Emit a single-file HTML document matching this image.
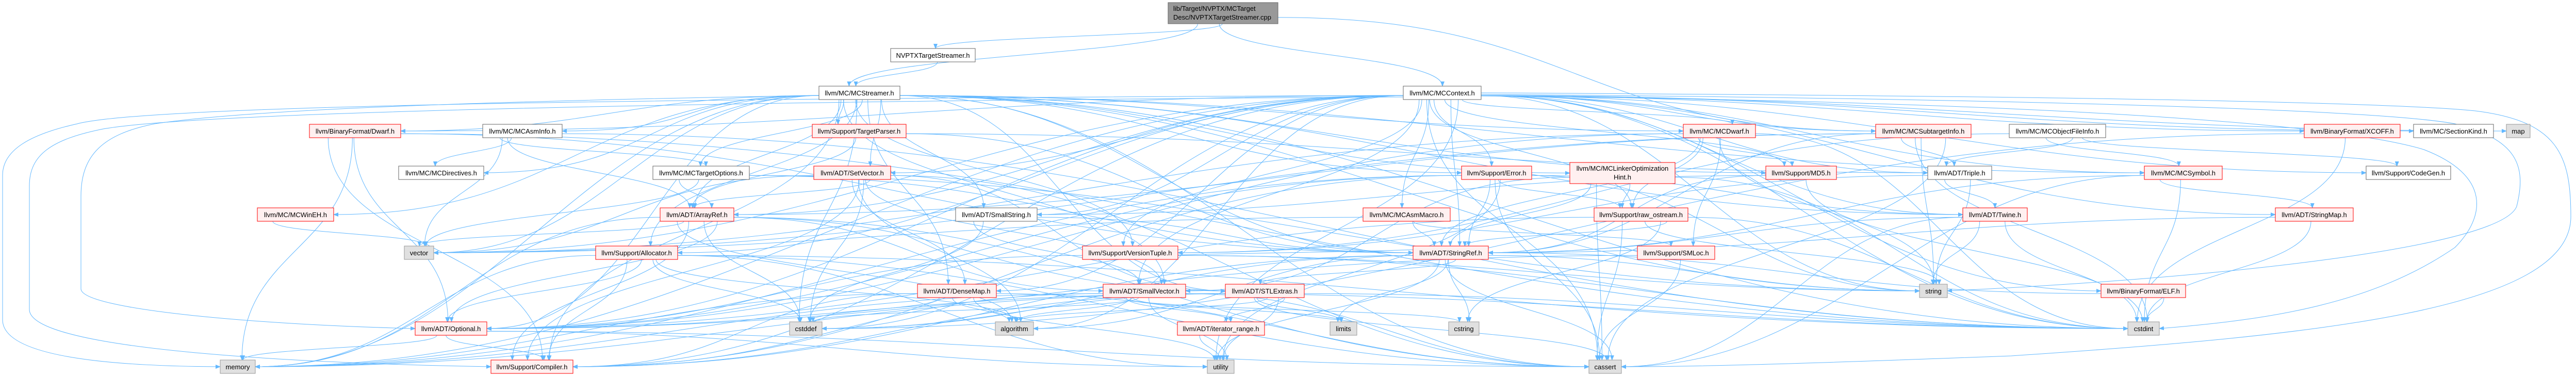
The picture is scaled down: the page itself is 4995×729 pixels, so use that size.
<!DOCTYPE html>
<html><head><meta charset="utf-8">
<style>
html,body{margin:0;padding:0;background:#fff;width:4995px;height:729px;overflow:hidden}
svg text{font-family:"Liberation Sans",Helvetica,sans-serif;font-size:13px;fill:#000}
</style></head>
<body>
<svg id="g" xmlns="http://www.w3.org/2000/svg" width="4995" height="729" viewBox="0 0 4995 729">
<defs>
<marker id="ah" markerWidth="10" markerHeight="8" refX="9" refY="4" orient="auto" markerUnits="userSpaceOnUse">
<path d="M0,0 L10,4 L0,8 z" fill="#63b8ff"/>
</marker>
</defs>
<g id="edges" fill="none" stroke="#63b8ff" stroke-width="1">
<path marker-end="url(#ah)" d="M2721,185 C1500,190 300,200 150,240 C60,260 5,290 5,340 L5,620 C5,690 200,710 427,711"/>
<path marker-end="url(#ah)" d="M2721,188 C1500,195 400,215 200,250 C100,270 57,300 57,360 L57,600 C57,680 600,705 952,711"/>
<path marker-end="url(#ah)" d="M1588,185 C1000,195 500,210 300,240 C200,260 157,300 157,380 L157,560 C157,600 500,630 805,637"/>
<path marker-end="url(#ah)" d="M2872,180 C3800,185 4600,195 4800,215 C4960,235 4985,300 4985,420 C4985,600 4500,650 3900,690 C3500,705 3300,711 3144,711"/>
<path marker-end="url(#ah)" d="M2872,183 C3800,190 4600,210 4760,240 C4880,270 4900,320 4880,400 C4850,480 4300,540 3776,564"/>
<path marker-end="url(#ah)" d="M2872,186 C3800,195 4500,230 4700,290 C4830,340 4820,420 4760,480 C4600,590 4400,620 4187,637"/>
</g>
<g id="nodes">
<rect x="2265" y="5" width="213" height="41" fill="#999" stroke="#666"/>
<text x="2275" y="21">lib/Target/NVPTX/MCTarget</text>
<text x="2275" y="38">Desc/NVPTXTargetStreamer.cpp</text>
<rect x="3044" y="315" width="204" height="41" fill="#fff0f0" stroke="#f00"/>
<text x="3146" y="331" text-anchor="middle">llvm/MC/MCLinkerOptimization</text>
<text x="3146" y="348" text-anchor="middle">Hint.h</text>
</g>
</svg>
<script>
var N={
nts:[1727,1891,94,'w','NVPTXTargetStreamer.h'],
mcs:[1588,1745,167,'w','llvm/MC/MCStreamer.h'],
ctx:[2721,2872,167,'w','llvm/MC/MCContext.h'],
dwarf:[600,777,241,'r','llvm/BinaryFormat/Dwarf.h'],
asminfo:[936,1090,241,'w','llvm/MC/MCAsmInfo.h'],
tparser:[1575,1757,241,'r','llvm/Support/TargetParser.h'],
mcdwarf:[3264,3404,241,'r','llvm/MC/MCDwarf.h'],
subinfo:[3637,3822,241,'r','llvm/MC/MCSubtargetInfo.h'],
ofi:[3896,4083,241,'w','llvm/MC/MCObjectFileInfo.h'],
xcoff:[4468,4654,241,'r','llvm/BinaryFormat/XCOFF.h'],
seckind:[4680,4835,241,'w','llvm/MC/SectionKind.h'],
map:[4860,4906,241,'g','map'],
directives:[773,938,322,'w','llvm/MC/MCDirectives.h'],
mto:[1266,1453,322,'w','llvm/MC/MCTargetOptions.h'],
setvec:[1578,1727,322,'r','llvm/ADT/SetVector.h'],
error:[2834,2970,322,'r','llvm/Support/Error.h'],
md5:[3424,3561,322,'r','llvm/Support/MD5.h'],
triple:[3738,3862,322,'w','llvm/ADT/Triple.h'],
symbol:[4158,4309,322,'r','llvm/MC/MCSymbol.h'],
codegen:[4588,4752,322,'w','llvm/Support/CodeGen.h'],
winEH:[499,647,403,'r','llvm/MC/MCWinEH.h'],
arrayref:[1280,1423,403,'r','llvm/ADT/ArrayRef.h'],
smallstr:[1853,2011,403,'w','llvm/ADT/SmallString.h'],
asmmacro:[2643,2812,403,'r','llvm/MC/MCAsmMacro.h'],
rawos:[3091,3273,403,'r','llvm/Support/raw_ostream.h'],
twine:[3806,3931,403,'r','llvm/ADT/Twine.h'],
stringmap:[4412,4563,403,'r','llvm/ADT/StringMap.h'],
vector:[784,841,477,'g','vector'],
alloc:[1155,1314,477,'r','llvm/Support/Allocator.h'],
vtuple:[2099,2284,477,'r','llvm/Support/VersionTuple.h'],
stringref:[2740,2886,477,'r','llvm/ADT/StringRef.h'],
smloc:[3175,3325,477,'r','llvm/Support/SMLoc.h'],
densemap:[1779,1932,551,'r','llvm/ADT/DenseMap.h'],
smallvec:[2139,2299,551,'r','llvm/ADT/SmallVector.h'],
stlextras:[2376,2529,551,'r','llvm/ADT/STLExtras.h'],
string:[3722,3776,551,'g','string'],
elf:[4074,4238,551,'r','llvm/BinaryFormat/ELF.h'],
optional:[805,944,624,'r','llvm/ADT/Optional.h'],
cstddef:[1531,1594,624,'g','cstddef'],
algorithm:[1930,2004,624,'g','algorithm'],
iterrange:[2283,2452,624,'r','llvm/ADT/iterator_range.h'],
limits:[2579,2631,624,'g','limits'],
cstring:[2809,2868,624,'g','cstring'],
cstdint:[4126,4187,624,'g','cstdint'],
memory:[427,495,698,'g','memory'],
compiler:[952,1111,698,'r','llvm/Support/Compiler.h'],
utility:[2341,2393,698,'g','utility'],
cassert:[3081,3144,698,'g','cassert']
};
N.root=[2265,2478,5,'x','',41];N.loh=[3044,3248,315,'x','',41];
var E={
root:'nts mcs ctx subinfo',
nts:'mcs',
mcs:'dwarf asminfo directives winEH mto tparser setvec arrayref smallstr vtuple densemap smallvec stlextras optional memory vector compiler error loh mcdwarf stringref twine cstddef cstdint string symbol md5 alloc cassert',
ctx:'dwarf xcoff seckind map mcdwarf subinfo md5 error asmmacro stringref smallstr smallvec densemap setvec arrayref twine alloc stringmap symbol triple string cstdint cassert memory vector utility compiler optional vtuple rawos elf cstddef algorithm codegen',
dwarf:'optional compiler memory cstdint stringref',
asminfo:'directives vector cstdint arrayref mto',
tparser:'arrayref stringref triple',
mto:'arrayref stringref string vector',
setvec:'arrayref densemap smallvec stlextras algorithm cassert vector compiler cstddef',
arrayref:'smallvec stlextras algorithm cassert cstddef memory vector compiler optional',
smallstr:'smallvec stringref cstddef',
alloc:'compiler optional cstddef cassert algorithm cstdint utility memory',
vtuple:'optional stringref cstdint string',
densemap:'algorithm cassert cstddef utility compiler memory',
smallvec:'compiler algorithm cassert cstddef cstdint cstring iterrange utility limits memory',
stlextras:'iterrange utility cassert cstddef cstdint limits algorithm memory optional compiler',
stringref:'stlextras algorithm cassert cstddef cstring limits string utility compiler',
error:'stringref twine rawos cassert string compiler memory utility optional',
loh:'stringref smallvec rawos cassert cstdint',
rawos:'stringref cassert cstdint cstring string optional',
asmmacro:'stringref smloc vector',
smloc:'cassert optional',
mcdwarf:'md5 rawos stringref string smloc cstdint vector optional',
subinfo:'triple arrayref stringref string cassert cstdint vector',
md5:'stringref cstdint smallstr',
triple:'twine vtuple string',
twine:'stringref string cstdint cassert',
symbol:'stringmap stringref cassert cstdint',
stringmap:'stringref cstdint',
ofi:'triple vtuple codegen symbol',
elf:'cstdint stringref',
optional:'compiler memory cassert utility',
iterrange:'utility',
xcoff:'cstdint cstddef',
winEH:'vector'
};
var ns='http://www.w3.org/2000/svg',eg=document.getElementById('edges'),ng=document.getElementById('nodes');
function h(n){return n[5]||26;}
var seed=7;function rnd(){seed=(seed*9301+49297)%233280;return seed/233280;}
for(var s in E){var a=N[s];E[s].split(' ').forEach(function(t){var b=N[t];if(!b)return;
var sw=a[1]-a[0],tw=b[1]-b[0];
var sx=a[0]+sw*(0.2+0.6*rnd()),sy=a[2]+h(a);
var tx=b[0]+tw*(0.25+0.5*rnd()),ty=b[2];
var dx=tx-sx;
if(Math.abs(dx)>700){
 if(dx>0){tx=b[0];}else{tx=b[1];}
 ty=b[2]+h(b)/2; sy=a[2]+h(a)*0.7; sx=dx>0?a[1]:a[0];
 var p='M'+sx+','+sy+' C'+(sx+dx*0.4)+','+sy+' '+(tx-dx*0.4)+','+ty+' '+tx+','+ty;
}else{
 var dy=ty-sy;
 var p='M'+sx+','+sy+' C'+sx+','+(sy+dy*0.5)+' '+tx+','+(ty-dy*0.5)+' '+tx+','+ty;
}
var e=document.createElementNS(ns,'path');e.setAttribute('d',p);e.setAttribute('marker-end','url(#ah)');eg.appendChild(e);});}
for(var k in N){var n=N[k];if(n[3]=='x')continue;
var r=document.createElementNS(ns,'rect');r.setAttribute('x',n[0]);r.setAttribute('y',n[2]);r.setAttribute('width',n[1]-n[0]);r.setAttribute('height',26);
var f={w:'#fff',r:'#fff0f0',g:'#e0e0e0'}[n[3]],st={w:'#666',r:'#f00',g:'#999'}[n[3]];
r.setAttribute('fill',f);r.setAttribute('stroke',st);ng.appendChild(r);
var tx=document.createElementNS(ns,'text');tx.setAttribute('x',(n[0]+n[1])/2);tx.setAttribute('y',n[2]+18);tx.setAttribute('text-anchor','middle');tx.textContent=n[4];ng.appendChild(tx);}
</script>
</body></html>
